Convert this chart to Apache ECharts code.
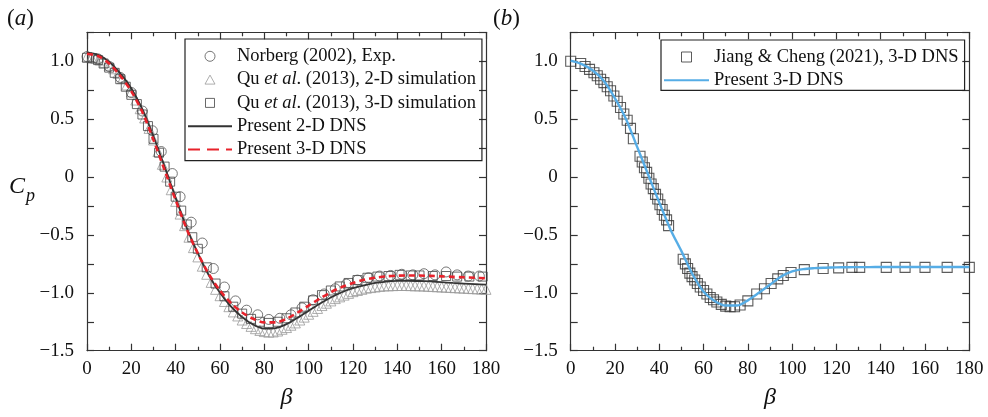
<!DOCTYPE html>
<html>
<head>
<meta charset="utf-8">
<script src="https://cdn.jsdelivr.net/npm/echarts@6/dist/echarts.min.js"></script>
<style>
  html, body { margin: 0; padding: 0; background: #fff; }
  #chart { width: 988px; height: 417px; }
</style>
</head>
<body>
<div id="chart"></div>
<script>
// ---- Panel (a): pressure coefficient around the cylinder ----
const betaLine = [0, 5, 10, 15, 20, 25, 30, 35, 40, 45, 50, 55, 60, 65, 70, 75, 80, 85, 90,
  95, 100, 105, 110, 115, 120, 125, 130, 135, 140, 145, 150, 155, 160, 165, 170, 175, 180];

// Present 2-D DNS (solid)
const cpPresent2D = [1.075, 1.055, 0.995, 0.895, 0.765, 0.585, 0.35, 0.09, -0.18, -0.44, -0.66,
  -0.85, -1.0, -1.12, -1.21, -1.275, -1.31, -1.305, -1.27, -1.215, -1.155, -1.095, -1.04, -0.995,
  -0.96, -0.935, -0.915, -0.903, -0.897, -0.896, -0.898, -0.902, -0.908, -0.915, -0.92, -0.925, -0.93];

// Present 3-D DNS (dashed)
const cpPresent3D = [1.065, 1.045, 0.98, 0.875, 0.74, 0.56, 0.32, 0.06, -0.2, -0.45, -0.66,
  -0.84, -0.98, -1.09, -1.17, -1.225, -1.255, -1.255, -1.225, -1.17, -1.11, -1.05, -0.995, -0.95,
  -0.915, -0.888, -0.87, -0.858, -0.852, -0.85, -0.851, -0.854, -0.858, -0.862, -0.866, -0.87, -0.875];

// Norberg (2002), experiment
const norbergBeta = [0, 5, 10, 15, 20, 25, 29.5, 33.5, 38.5, 42, 47, 52, 57, 62, 67, 72, 77, 82, 87,
  92, 97, 102, 107, 112, 117, 122, 127, 132, 137, 142, 147, 152, 157, 162, 167, 172, 177];
const norbergCp = [1.04, 1.02, 0.955, 0.86, 0.73, 0.57, 0.4, 0.22, 0.03, -0.17, -0.39, -0.57, -0.79,
  -0.95, -1.07, -1.15, -1.19, -1.23, -1.22, -1.19, -1.13, -1.06, -1.01, -0.965, -0.925, -0.89, -0.87,
  -0.855, -0.85, -0.84, -0.845, -0.835, -0.845, -0.82, -0.845, -0.855, -0.855];

// Qu et al. (2013), 2-D simulation
const qu2DBeta = [0, 2, 4, 6, 8, 10, 12, 14, 16, 18, 20, 22, 24, 26, 28, 30, 32, 34, 36, 38, 40, 42,
  44, 46, 48, 50, 52, 54, 56, 58, 60, 62, 64, 66, 68, 70, 72, 74, 76, 78, 80, 82, 84, 86, 88, 90, 92,
  94, 96, 98, 100, 102, 104, 106, 108, 110, 112, 114, 116, 118, 120, 122, 124, 126, 128, 130, 132,
  134, 136, 138, 140, 142, 144, 146, 148, 150, 152, 154, 156, 158, 160, 162, 164, 166, 168, 170,
  172, 174, 176, 178, 180];
const qu2DCp = [1.04, 1.035, 1.025, 1.01, 0.99, 0.965, 0.935, 0.895, 0.85, 0.795, 0.735, 0.665, 0.59,
  0.51, 0.42, 0.32, 0.22, 0.11, 0.0, -0.11, -0.21, -0.32, -0.42, -0.52, -0.61, -0.69, -0.77, -0.84,
  -0.91, -0.97, -1.025, -1.075, -1.12, -1.165, -1.2, -1.235, -1.265, -1.29, -1.31, -1.325, -1.335,
  -1.34, -1.338, -1.33, -1.315, -1.3, -1.28, -1.26, -1.235, -1.21, -1.185, -1.16, -1.135, -1.11,
  -1.09, -1.07, -1.05, -1.035, -1.02, -1.005, -0.99, -0.98, -0.97, -0.96, -0.955, -0.95, -0.945,
  -0.94, -0.94, -0.938, -0.937, -0.937, -0.937, -0.938, -0.94, -0.94, -0.942, -0.944, -0.946,
  -0.948, -0.95, -0.952, -0.954, -0.956, -0.958, -0.96, -0.962, -0.964, -0.966, -0.968, -0.97];

// Qu et al. (2013), 3-D simulation
const qu3DBeta = [0, 2.5, 5, 7.5, 10, 12.5, 15, 17.5, 20, 22.5, 25, 27.5, 30, 32.5, 35, 37.5, 40,
  42.5, 45, 47.5, 50, 54, 58, 62, 66, 70, 74, 78, 82, 86, 90, 94, 98, 102, 106, 110, 114, 118, 122,
  126.5, 131, 136, 141, 146, 150, 156, 162, 167, 172.5, 178.5];
const qu3DCp = [1.03, 1.025, 1.01, 0.98, 0.945, 0.9, 0.845, 0.78, 0.71, 0.63, 0.54, 0.44, 0.33, 0.21,
  0.09, -0.04, -0.17, -0.29, -0.41, -0.52, -0.62, -0.78, -0.92, -1.03, -1.12, -1.18, -1.225, -1.25,
  -1.26, -1.25, -1.22, -1.17, -1.12, -1.065, -1.02, -0.98, -0.945, -0.915, -0.89, -0.87, -0.86,
  -0.855, -0.845, -0.85, -0.85, -0.855, -0.855, -0.86, -0.86, -0.86];

// ---- Panel (b) ----
// Present 3-D DNS (solid blue)
const cpPresentB = [1.005, 0.975, 0.92, 0.83, 0.68, 0.5, 0.26, 0.02, -0.22, -0.45, -0.64, -0.84,
  -0.99, -1.07, -1.11, -1.11, -1.065, -1.0, -0.93, -0.86, -0.815, -0.795, -0.787, -0.783, -0.78,
  -0.779, -0.778, -0.778, -0.777, -0.777, -0.777, -0.777, -0.777, -0.777, -0.777, -0.777, -0.777];

// Jiang & Cheng (2021), 3-D DNS
const jiangBeta = [0, 4.5, 6.5, 8.5, 10.5, 12, 13.5, 15, 16.5, 18, 19.5, 21, 22.5, 24, 25.5, 27,
  28.3, 31.3, 32.3, 33.3, 34.3, 35.3, 36.3, 37.3, 38.3, 39.3, 40.3, 41.3, 42.3, 43.3, 44.2, 50.8,
  51.8, 52.8, 53.8, 54.8, 56, 57.2, 58.5, 60, 61.5, 63, 64.5, 66, 68, 70, 72, 74, 76.5, 80, 84,
  87.5, 90.5, 93.5, 96, 99.5, 105.5, 114, 121, 127, 130.5, 142.5, 151, 160, 170, 180];
const jiangCp = [1.0, 0.98, 0.955, 0.93, 0.9, 0.875, 0.845, 0.815, 0.78, 0.745, 0.7, 0.655, 0.6,
  0.545, 0.49, 0.42, 0.33, 0.18, 0.13, 0.08, 0.04, -0.01, -0.06, -0.1, -0.15, -0.19, -0.24, -0.28,
  -0.33, -0.37, -0.42, -0.71, -0.75, -0.79, -0.83, -0.86, -0.89, -0.92, -0.95, -0.98, -1.01, -1.04,
  -1.06, -1.08, -1.1, -1.115, -1.12, -1.12, -1.105, -1.07, -1.01, -0.965, -0.92, -0.88, -0.85,
  -0.825, -0.8, -0.79, -0.785, -0.78, -0.78, -0.78, -0.78, -0.78, -0.78, -0.78];

// Axis ticks
const xTickStep = 20;
const yTickStep = 0.5;
const yMin = -1.5, yMax = 1.25;

const SERIF = '"Liberation Serif", "Times New Roman", serif';
const AX = '#333';
const TXT = '#111';
const TICK_FS = 19;
const LEG_FS = 18.5;

const pairs = (xs, ys) => xs.map((x, i) => [x, ys[i]]);

function xAxisDef(grid, pos, withLabels) {
  return {
    type: 'value', gridIndex: grid, position: pos, min: 0, max: 180, interval: xTickStep,
    axisLine: { show: true, onZero: false, lineStyle: { color: AX, width: 1.2 } },
    axisTick: { show: true, inside: true, length: 7, lineStyle: { color: AX, width: 1.2 } },
    minorTick: { show: true, splitNumber: 2, length: 4, lineStyle: { color: AX, width: 1.2 } },
    axisLabel: { show: withLabels, margin: 9, color: TXT, fontFamily: SERIF, fontSize: TICK_FS },
    splitLine: { show: false }, minorSplitLine: { show: false },
    name: withLabels ? 'β' : '', nameLocation: 'middle', nameGap: 35,
    nameTextStyle: { fontFamily: SERIF, fontStyle: 'italic', fontSize: 24, color: TXT }
  };
}
function yAxisDef(grid, pos, withLabels) {
  return {
    type: 'value', gridIndex: grid, position: pos, min: yMin, max: yMax, interval: yTickStep,
    axisLine: { show: true, onZero: false, lineStyle: { color: AX, width: 1.2 } },
    axisTick: { show: true, inside: true, length: 7, lineStyle: { color: AX, width: 1.2 } },
    minorTick: { show: true, splitNumber: 2, length: 7, lineStyle: { color: AX, width: 1.2 } },
    axisLabel: {
      show: withLabels, margin: 13, color: TXT, fontFamily: SERIF, fontSize: TICK_FS,
      formatter: v => {
        if (Math.abs(v - yMax) < 1e-9) return '';
        if (Math.abs(v) < 1e-9) return '0';
        return v.toFixed(1).replace('-', '\u2212');
      }
    },
    splitLine: { show: false }, minorSplitLine: { show: false }
  };
}

const labels = {
  'Norberg (2002), Exp.': '{n|Norberg (2002), Exp.}',
  'Qu et al. (2013), 2-D simulation': '{n|Qu }{i|et al}{n|. (2013), 2-D simulation}',
  'Qu et al. (2013), 3-D simulation': '{n|Qu }{i|et al}{n|. (2013), 3-D simulation}',
  'Present 2-D DNS': '{n|Present 2-D DNS}',
  'Present 3-D DNS': '{n|Present 3-D DNS}',
  'Jiang & Cheng (2021), 3-D DNS': '{n|Jiang & Cheng (2021), 3-D DNS}',
  'Present 3-D DNS (b)': '{n|Present 3-D DNS}'
};
const legendText = {
  fontFamily: SERIF, fontSize: LEG_FS, color: TXT, lineHeight: 19,
  rich: {
    n: { fontFamily: SERIF, fontSize: LEG_FS, color: TXT, lineHeight: 19 },
    i: { fontFamily: SERIF, fontSize: LEG_FS, color: TXT, lineHeight: 19, fontStyle: 'italic' }
  }
};
const hollow = c => ({ color: 'rgba(0,0,0,0)', borderColor: c, borderWidth: 1 });
// legend entry for a line: hide the marker glyph, keep the stroke sample
const lineEntry = (name, extra) => Object.assign({
  name, itemStyle: { opacity: 0, color: 'rgba(0,0,0,0)', borderWidth: 0 }
}, extra || {});
// legend entry for a marker; the leading moves span the full icon box so the glyph keeps its shape
const markEntry = (name, color, icon) => {
  const e = { name, itemStyle: { color: 'rgba(0,0,0,0)', borderColor: color, borderWidth: 1 } };
  if (icon) e.icon = icon;
  return e;
};
const ICON_TRI = 'path://M0,0M44,10M22,0.5L27,9.5L17,9.5Z';
const ICON_SQ = 'path://M0,0M44,10M17.5,0.5L26.5,0.5L26.5,9.5L17.5,9.5Z';
const ICON_SQ_B = 'path://M0,0M45,10M17.5,0L27.5,0L27.5,10L17.5,10Z';

const option = {
  animation: false,
  backgroundColor: '#fff',
  grid: [
    { left: 87, top: 32.3, width: 399, height: 318.4, containLabel: false },
    { left: 570.7, top: 32.3, width: 398.6, height: 318.4, containLabel: false }
  ],
  xAxis: [xAxisDef(0, 'bottom', true), xAxisDef(0, 'top', false),
          xAxisDef(1, 'bottom', true), xAxisDef(1, 'top', false)],
  yAxis: [yAxisDef(0, 'left', true), yAxisDef(0, 'right', false),
          yAxisDef(1, 'left', true), yAxisDef(1, 'right', false)],
  legend: [
    {
      left: 185, top: 39, orient: 'vertical', itemWidth: 44, itemHeight: 10, itemGap: 4.3,
      padding: [7.8, 6, 1.7, 2], borderColor: '#222', borderWidth: 1.2, selectedMode: false,
      textStyle: legendText, formatter: n => labels[n],
      data: [markEntry('Norberg (2002), Exp.', '#555'),
             markEntry('Qu et al. (2013), 2-D simulation', '#9a9a9a', ICON_TRI),
             markEntry('Qu et al. (2013), 3-D simulation', '#444', ICON_SQ),
             lineEntry('Present 2-D DNS'),
             lineEntry('Present 3-D DNS', { lineStyle: { type: [12, 7] } })]
    },
    {
      left: 661, top: 40, orient: 'vertical', itemWidth: 45, itemHeight: 10, itemGap: 4.3,
      padding: [7.5, 6, 0.5, 2], borderColor: '#222', borderWidth: 1.2, selectedMode: false,
      textStyle: legendText, formatter: n => labels[n],
      data: [markEntry('Jiang & Cheng (2021), 3-D DNS', '#333', ICON_SQ_B), lineEntry('Present 3-D DNS (b)')]
    }
  ],
  graphic: [
    { type: 'text', x: 7, y: 19, style: { text: '{n|(}{i|a}{n|)}', verticalAlign: 'middle', textVerticalAlign: 'middle',
      rich: { n: { fontFamily: SERIF, fontSize: 23, fill: TXT }, i: { fontFamily: SERIF, fontSize: 23, fontStyle: 'italic', fill: TXT } } } },
    { type: 'text', x: 493, y: 19, style: { text: '{n|(}{i|b}{n|)}', verticalAlign: 'middle', textVerticalAlign: 'middle',
      rich: { n: { fontFamily: SERIF, fontSize: 23, fill: TXT }, i: { fontFamily: SERIF, fontSize: 23, fontStyle: 'italic', fill: TXT } } } },
    { type: 'text', x: 9, y: 187, style: { text: 'C', font: 'italic 24px ' + SERIF, fill: TXT, verticalAlign: 'middle', textVerticalAlign: 'middle' } },
    { type: 'text', x: 26, y: 196, style: { text: 'p', font: 'italic 18px ' + SERIF, fill: TXT, verticalAlign: 'middle', textVerticalAlign: 'middle' } }
  ],
  series: [
    { name: 'Qu et al. (2013), 2-D simulation', type: 'scatter', xAxisIndex: 0, yAxisIndex: 0,
      symbol: 'triangle', symbolSize: 10, itemStyle: hollow('#9a9a9a'), data: pairs(qu2DBeta, qu2DCp) },
    { name: 'Norberg (2002), Exp.', type: 'scatter', xAxisIndex: 0, yAxisIndex: 0,
      symbol: 'circle', symbolSize: 10, itemStyle: hollow('#555'), data: pairs(norbergBeta, norbergCp) },
    { name: 'Qu et al. (2013), 3-D simulation', type: 'scatter', xAxisIndex: 0, yAxisIndex: 0,
      symbol: 'rect', symbolSize: 9, itemStyle: hollow('#444'), data: pairs(qu3DBeta, qu3DCp) },
    { name: 'Present 2-D DNS', type: 'line', xAxisIndex: 0, yAxisIndex: 0, symbol: 'none', showSymbol: false,
      smooth: 0.3, lineStyle: { color: '#333', width: 1.8 }, itemStyle: { color: '#333' },
      data: pairs(betaLine, cpPresent2D) },
    { name: 'Present 3-D DNS', type: 'line', xAxisIndex: 0, yAxisIndex: 0, symbol: 'none', showSymbol: false,
      smooth: 0.3, lineStyle: { color: '#e8222b', width: 2.6, type: [6, 4] }, itemStyle: { color: '#e8222b' },
      data: pairs(betaLine, cpPresent3D) },
    { name: 'Jiang & Cheng (2021), 3-D DNS', type: 'scatter', xAxisIndex: 2, yAxisIndex: 2,
      symbol: 'rect', symbolSize: 10,
      itemStyle: { color: 'rgba(0,0,0,0)', borderColor: '#333', borderWidth: 1.1 },
      data: pairs(jiangBeta, jiangCp) },
    { name: 'Present 3-D DNS (b)', type: 'line', xAxisIndex: 2, yAxisIndex: 2, symbol: 'none', showSymbol: false,
      smooth: 0.3, lineStyle: { color: '#56ade6', width: 2.4 }, itemStyle: { color: '#56ade6' },
      data: pairs(betaLine, cpPresentB) }
  ]
};

const chart = echarts.init(document.getElementById('chart'), null, { renderer: 'canvas' });
chart.setOption(option);
</script>
</body>
</html>
